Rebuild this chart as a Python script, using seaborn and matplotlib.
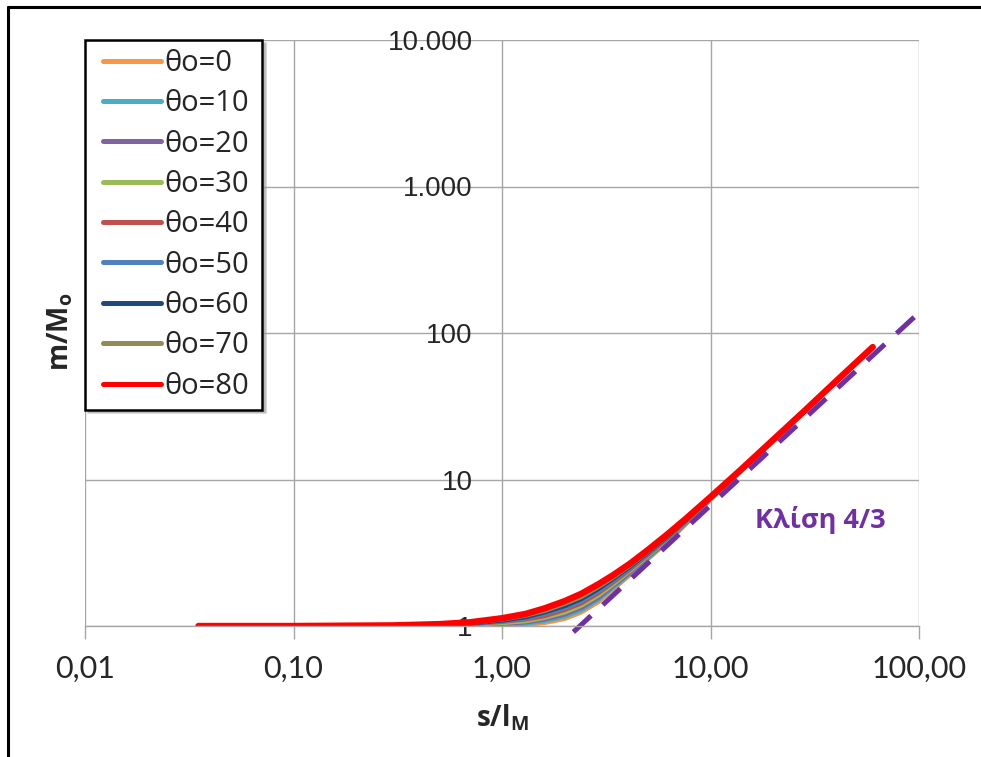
import matplotlib
matplotlib.use("Agg")
import matplotlib.pyplot as plt
import matplotlib.ticker as ticker
from matplotlib.lines import Line2D
from matplotlib.legend_handler import HandlerLine2D
import pandas as pd
import seaborn as sns

# === DANE ===
s_ratio = [0.035, 0.1, 0.3, 0.5, 0.7, 1.0, 1.3, 1.6, 2.0, 2.4, 2.9, 3.4, 4.1,
           5.0, 6.2, 7.6, 10, 14, 20, 28, 40, 60]

m_theta0 = [1.0, 1.0, 1.0, 1.0, 1.0, 1.01, 1.02, 1.05, 1.12, 1.24, 1.46, 1.77, 2.23,
            2.86, 3.72, 4.95, 7.30, 11.40, 18.40, 28.80, 46.60, 79.80]
m_theta10 = [1.0, 1.0, 1.0, 1.0, 1.01, 1.02, 1.04, 1.08, 1.16, 1.28, 1.51, 1.82, 2.27,
             2.90, 3.77, 4.99, 7.33, 11.43, 18.43, 28.83, 46.63, 79.84]
m_theta20 = [1.0, 1.0, 1.0, 1.01, 1.01, 1.04, 1.06, 1.11, 1.20, 1.33, 1.56, 1.87, 2.32,
             2.96, 3.83, 5.05, 7.37, 11.47, 18.47, 28.87, 46.67, 79.89]
m_theta30 = [1.0, 1.0, 1.0, 1.01, 1.02, 1.05, 1.08, 1.14, 1.24, 1.38, 1.62, 1.92, 2.38,
             3.01, 3.89, 5.10, 7.40, 11.50, 18.50, 28.90, 46.70, 79.94]
m_theta40 = [1.0, 1.0, 1.0, 1.01, 1.03, 1.07, 1.11, 1.17, 1.29, 1.43, 1.68, 1.98, 2.43,
             3.06, 3.95, 5.15, 7.44, 11.54, 18.54, 28.94, 46.74, 79.98]
m_theta50 = [1.0, 1.0, 1.01, 1.02, 1.03, 1.08, 1.13, 1.21, 1.33, 1.48, 1.73, 2.03, 2.48,
             3.12, 4.01, 5.21, 7.47, 11.57, 18.57, 28.97, 46.77, 80.03]
m_theta60 = [1.0, 1.0, 1.01, 1.02, 1.04, 1.09, 1.15, 1.24, 1.37, 1.53, 1.79, 2.09, 2.53,
             3.17, 4.07, 5.26, 7.51, 11.61, 18.61, 29.01, 46.81, 80.08]
m_theta70 = [1.0, 1.0, 1.01, 1.02, 1.05, 1.11, 1.18, 1.27, 1.42, 1.58, 1.85, 2.14, 2.58,
             3.22, 4.13, 5.31, 7.55, 11.65, 18.65, 29.05, 46.85, 80.13]
m_theta80 = [1.0, 1.0, 1.01, 1.03, 1.06, 1.13, 1.21, 1.32, 1.48, 1.66, 1.93, 2.22, 2.66,
             3.30, 4.22, 5.39, 7.60, 11.70, 18.70, 29.10, 46.90, 80.20]

theta_labels = ["θo=0", "θo=10", "θo=20", "θo=30", "θo=40", "θo=50", "θo=60", "θo=70", "θo=80"]
theta_colors = ["#F79646", "#4BACC6", "#8064A2", "#9BBB59", "#C0504D",
                "#4F81BD", "#1F497D", "#948A54", "#FF0000"]
series = [m_theta0, m_theta10, m_theta20, m_theta30, m_theta40,
          m_theta50, m_theta60, m_theta70, m_theta80]

# linia o nachyleniu 4/3
slope_s = [2.2, 103.0]
slope_m = [0.91, 143.0]

x_ticks = [0.01, 0.1, 1, 10, 100]
x_tick_labels = ["0,01", "0,10", "1,00", "10,00", "100,00"]
y_ticks = [1, 10, 100, 1000, 10000]
y_tick_labels = ["1", "10", "100", "1.000", "10.000"]

rows = []
for lab, vals in zip(theta_labels, series):
    for s, m in zip(s_ratio, vals):
        rows.append({"s": s, "m": m, "theta": lab})
df = pd.DataFrame(rows)

# === RYSOWANIE ===
sns.set_style("white")
plt.rcParams["font.family"] = ["Open Sans", "DejaVu Sans"]
plt.rcParams["mathtext.fontset"] = "custom"
plt.rcParams["mathtext.rm"] = "Open Sans"
plt.rcParams["mathtext.bf"] = "Open Sans:bold"

fig = plt.figure(figsize=(9.81, 7.57), dpi=100)
ax = fig.add_axes([85 / 981, 1 - 626 / 757, 834 / 981, 586 / 757])

purple = "#7030A0"
grid_c = "#a6a6a6"

for lab, col in zip(theta_labels, theta_colors):
    lw = 4.6 if lab == "θo=80" else 3.2
    sns.lineplot(data=df[df["theta"] == lab], x="s", y="m", color=col, lw=lw,
                 label=lab, ax=ax, sort=False, estimator=None, legend=False,
                 solid_capstyle="round")

sns.lineplot(x=slope_s, y=slope_m, color=purple, lw=3.6, ax=ax, sort=False,
             estimator=None, legend=False)
ax.lines[-1].set_dashes((4.8, 3.2))
ax.lines[-1].set_clip_on(False)

ax.set_xscale("log")
ax.set_yscale("log")
ax.set_xlim(0.01, 100)
ax.set_ylim(1, 10000)

ax.xaxis.set_major_locator(ticker.FixedLocator(x_ticks))
ax.xaxis.set_major_formatter(ticker.FixedFormatter(x_tick_labels))
ax.xaxis.set_minor_locator(ticker.NullLocator())
ax.yaxis.set_major_locator(ticker.FixedLocator(y_ticks))
ax.yaxis.set_major_formatter(ticker.FixedFormatter(y_tick_labels))
ax.yaxis.set_minor_locator(ticker.NullLocator())

ax.grid(True, which="major", color=grid_c, lw=1)
for side in ["top", "right", "left"]:
    ax.spines[side].set_visible(False)
ax.spines["bottom"].set_color(grid_c)
ax.spines["bottom"].set_linewidth(1)
ax.spines["left"].set_position(("data", 1.0))

ax.tick_params(axis="x", bottom=True, direction="out", length=9, width=1,
               color=grid_c, pad=12, labelsize=22)
ax.tick_params(axis="y", left=True, length=0, pad=21)
for t in ax.get_xticklabels():
    t.set_fontfamily(["Lato", "DejaVu Sans"])
for t in ax.get_yticklabels():
    t.set_fontfamily(["Liberation Sans", "DejaVu Sans"])
    t.set_fontsize(20)

ax.set_xlabel(r"$\mathbf{s/l}_{\mathbf{M}}$", fontsize=20)
ax.set_ylabel(r"$\mathbf{m/M}_{\mathbf{o}}$", fontsize=20)
ax.xaxis.set_label_coords(0.5, -0.156)
ax.xaxis.label.set_va("center")
ax.yaxis.set_label_coords(-0.030, 0.502)
ax.yaxis.label.set_va("center")

ax.text(33.5, 5.3, "Κλίση 4/3", color=purple, fontsize=19.5, fontweight="bold",
        ha="center", va="center")

handles, labels = ax.get_legend_handles_labels()
leg = ax.legend(handles[:9], labels[:9], loc="upper left",
                bbox_to_anchor=(0, 0, 177 / 834, 1), mode="expand",
                borderaxespad=0, fontsize=21, handlelength=2.32, handletextpad=0.1,
                labelspacing=0.39, borderpad=0.3, fancybox=False, framealpha=1,
                shadow={"color": "0.6", "alpha": 0.5},
                handler_map={Line2D: HandlerLine2D(xpad=0.31)})
leg.get_frame().set_edgecolor("black")
leg.get_frame().set_linewidth(1.8)
for h in leg.get_lines():
    h.set_linewidth(3.6)
    h.set_solid_capstyle("round")

# ramka obrazka
fig.add_artist(Line2D([8 / 981, 8 / 981], [0, 1 - 7 / 757], transform=fig.transFigure,
                      color="black", lw=2.2))
fig.add_artist(Line2D([8 / 981, 1], [1 - 7 / 757, 1 - 7 / 757], transform=fig.transFigure,
                      color="black", lw=2.2))

fig.savefig("out.png", dpi=100)
